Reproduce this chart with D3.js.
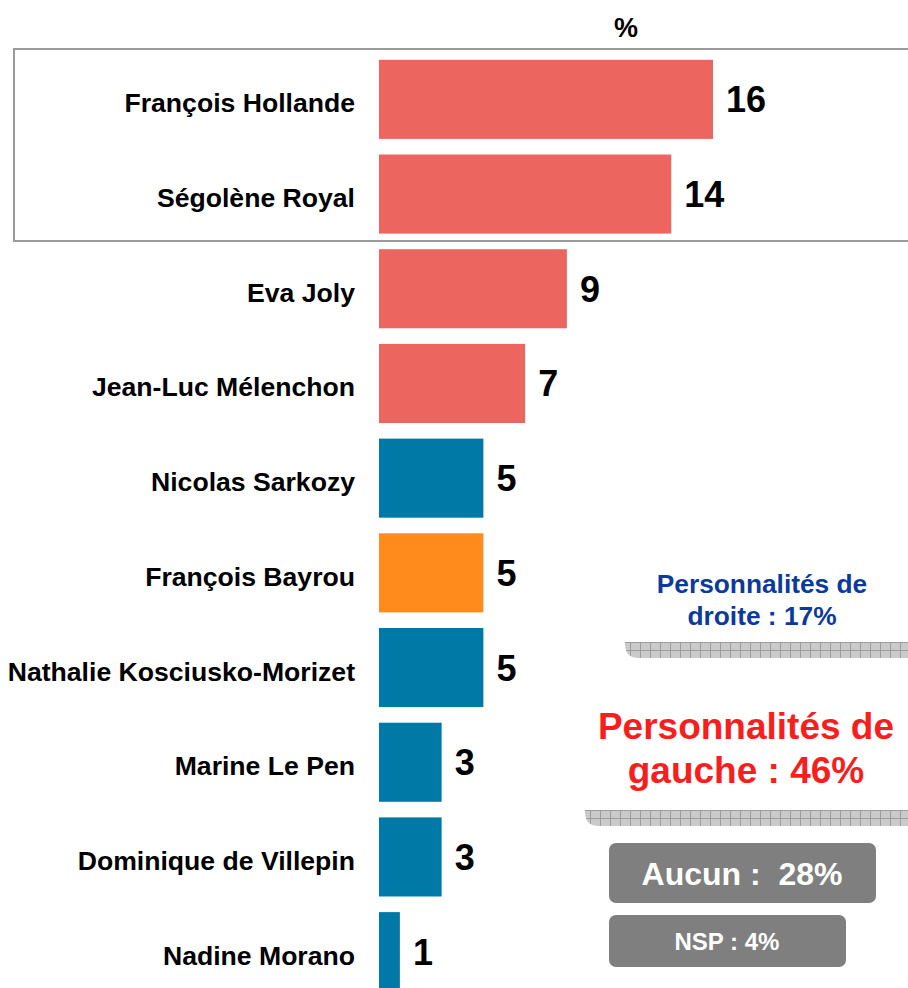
<!DOCTYPE html>
<html><head><meta charset="utf-8">
<script src="https://cdn.jsdelivr.net/npm/d3@7"></script>
<style>body{margin:0;background:#fff}svg{display:block}text{font-family:"Liberation Sans",Arial,Helvetica,sans-serif;font-weight:bold}</style>
</head><body>
<script>
const names = ["François Hollande","Ségolène Royal","Eva Joly","Jean-Luc Mélenchon","Nicolas Sarkozy","François Bayrou","Nathalie Kosciusko-Morizet","Marine Le Pen","Dominique de Villepin","Nadine Morano"];
const values = [16,14,9,7,5,5,5,3,3,1];
const camps = ["gauche","gauche","gauche","gauche","droite","centre","droite","droite","droite","droite"];
const campKeys = ["gauche","centre","droite"];
const campColors = ["#EC655E","#FE8B1B","#0079A7"];
const unitLabel = "%";
const droiteText = ["Personnalités de","droite : 17%"];
const gaucheText = ["Personnalités de","gauche : 46%"];
const aucunText = "Aucun :  28%";
const nspText = "NSP : 4%";

const W = 908, H = 988;
const svg = d3.select("body").append("svg").attr("width", W).attr("height", H);
const rows = names.map((n,i)=>({name:n, value:values[i], camp:camps[i]}));

const x = d3.scaleLinear().domain([0,16]).range([379,713]);
const y = d3.scaleBand().domain(names).range([52,999]).paddingInner(0.165).paddingOuter(0.0825);
const color = d3.scaleOrdinal().domain(campKeys).range(campColors);

// pattern for hatched bands
const defs = svg.append("defs");
const pat = defs.append("pattern").attr("id","hatch").attr("patternUnits","userSpaceOnUse")
  .attr("width",10).attr("height",8).attr("x",0).attr("y",2);
pat.append("rect").attr("width",10).attr("height",8).attr("fill","#cacaca");
pat.append("rect").attr("x",0).attr("y",0).attr("width",1).attr("height",8).attr("fill","#9c9c9c");
pat.append("rect").attr("x",0).attr("y",0).attr("width",10).attr("height",1).attr("fill","#9c9c9c");

// box around top two
svg.append("rect").attr("x",14).attr("y",49).attr("width",920).attr("height",192)
  .attr("fill","none").attr("stroke","#9a9a9a").attr("stroke-width",2);

// header
svg.append("text").attr("x",626).attr("y",37).attr("text-anchor","middle")
  .attr("font-size",27).attr("fill","#000").text(unitLabel);

// bars
svg.append("g").selectAll("rect").data(rows).join("rect")
  .attr("x",x(0)).attr("y",d=>y(d.name))
  .attr("width",d=>x(d.value)-x(0)).attr("height",y.bandwidth())
  .attr("fill",d=>color(d.camp));

// category labels
svg.append("g").selectAll("text").data(rows).join("text")
  .attr("x",355).attr("y",d=>y(d.name)+y.bandwidth()/2+13)
  .attr("text-anchor","end").attr("font-size",26.6).attr("fill","#000")
  .text(d=>d.name);

// value labels
svg.append("g").selectAll("text").data(rows).join("text")
  .attr("x",d=>x(d.value)+13).attr("y",d=>y(d.name)+y.bandwidth()/2+13)
  .attr("font-size",36).attr("fill","#000")
  .text(d=>d.value);

// hatched bands
function band(x0, y0, h, r){
  const x1 = 915;
  return `M${x0},${y0} L${x1},${y0} L${x1},${y0+h} L${x0+r},${y0+h} Q${x0},${y0+h} ${x0},${y0+h-r} Z`;
}
svg.append("path").attr("d",band(625,642,16,14)).attr("fill","url(#hatch)");
svg.append("path").attr("d",band(585,810,16,14)).attr("fill","url(#hatch)");

// droite text
svg.append("text").attr("text-anchor","middle").attr("fill","#0B3A9C").attr("font-size",26.3)
  .selectAll("tspan").data(droiteText).join("tspan")
  .attr("x",762).attr("y",(d,i)=>593+i*32).text(d=>d);

// gauche text
svg.append("text").attr("text-anchor","middle").attr("fill","#F81E1E").attr("font-size",37)
  .selectAll("tspan").data(gaucheText).join("tspan")
  .attr("x",746).attr("y",(d,i)=>739+i*44).text(d=>d);

// aucun / nsp boxes
svg.append("rect").attr("x",609).attr("y",843).attr("width",267).attr("height",60).attr("rx",7)
  .attr("fill","#7f7f7f");
svg.append("text").attr("x",742).attr("y",885).attr("text-anchor","middle").attr("fill","#fff")
  .attr("font-size",32).style("white-space","pre").text(aucunText);
svg.append("rect").attr("x",609).attr("y",915).attr("width",237).attr("height",52).attr("rx",7)
  .attr("fill","#7f7f7f");
svg.append("text").attr("x",727).attr("y",950).attr("text-anchor","middle").attr("fill","#fff")
  .attr("font-size",24).text(nspText);
</script>
</body></html>
